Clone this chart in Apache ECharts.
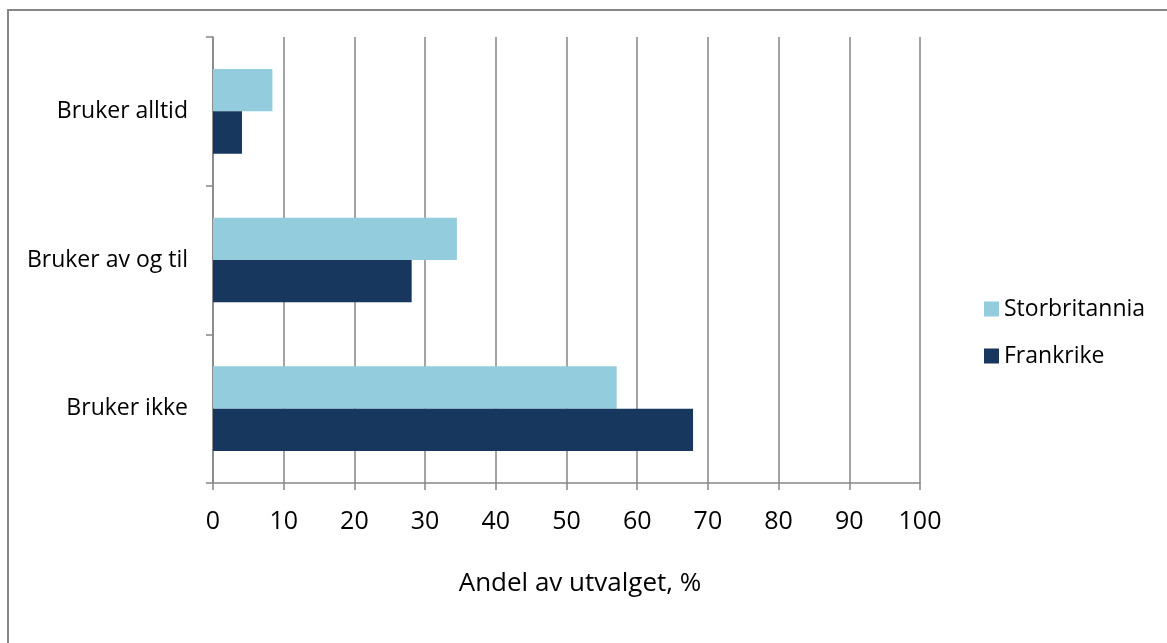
<!DOCTYPE html>
<html>
<head>
<meta charset="utf-8">
<script src="https://cdn.jsdelivr.net/npm/echarts@6/dist/echarts.min.js"></script>
<style>
html,body{margin:0;padding:0;background:#fff;}
#chart{width:1167px;height:643px;}
</style>
</head>
<body>
<div id="chart"></div>
<script>
const categories = ['Bruker ikke', 'Bruker av og til', 'Bruker alltid'];
const storbritannia = [57.1, 34.5, 8.4];
const frankrike = [67.9, 28.1, 4.1];
const xTicks = [0, 10, 20, 30, 40, 50, 60, 70, 80, 90, 100];
const seriesNames = ['Storbritannia', 'Frankrike'];
const axisTitle = 'Andel av utvalget, %';

const FONT = 'Open Sans';
const chart = echarts.init(document.getElementById('chart'));
chart.setOption({
  animation: false,
  backgroundColor: '#fff',
  color: ['#93CDDD', '#17375E'],
  graphic: [{
    type: 'polyline',
    shape: { points: [[8, 700], [8, 10], [1200, 10]] },
    style: { stroke: '#878787', lineWidth: 2, fill: null }
  }],
  grid: { left: 213, right: 247, top: 37, bottom: 160, containLabel: false },
  legend: {
    orient: 'vertical',
    left: 984,
    top: 293,
    padding: 0,
    itemWidth: 15,
    itemHeight: 15,
    itemGap: 15,
    icon: 'rect',
    textStyle: { fontFamily: FONT, fontSize: 23, color: '#000', lineHeight: 32 },
    data: seriesNames
  },
  xAxis: {
    type: 'value',
    min: xTicks[0],
    max: xTicks[xTicks.length - 1],
    interval: 10,
    name: axisTitle,
    nameLocation: 'middle',
    nameGap: 88,
    nameTextStyle: { fontFamily: FONT, fontSize: 26, color: '#000', padding: [0, 0, 0, 27] },
    axisLine: { show: true, lineStyle: { color: '#868686', width: 1.5 } },
    axisTick: { show: true, length: 7, lineStyle: { color: '#868686', width: 1.5 } },
    axisLabel: { fontFamily: FONT, fontSize: 25, color: '#000', margin: 26 },
    splitLine: { show: true, lineStyle: { color: '#868686', width: 1.5 } }
  },
  yAxis: {
    type: 'category',
    data: categories,
    axisLine: { show: true, lineStyle: { color: '#868686', width: 1.5 } },
    axisTick: { show: true, length: 7, lineStyle: { color: '#868686', width: 1.5 } },
    axisLabel: { fontFamily: FONT, fontSize: 23, color: '#000', margin: 25 }
  },
  series: [
    { name: seriesNames[0], type: 'bar', data: storbritannia, barGap: '0%', barCategoryGap: '43%' },
    { name: seriesNames[1], type: 'bar', data: frankrike, barGap: '0%', barCategoryGap: '43%' }
  ]
});
</script>
</body>
</html>
